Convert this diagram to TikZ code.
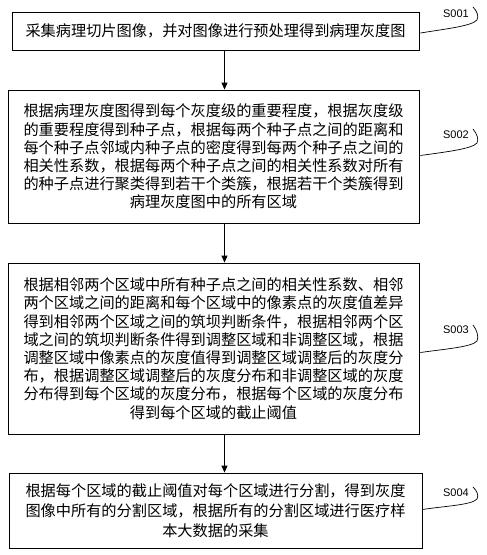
\documentclass[tikz,border=0pt]{standalone}
\usepackage{fontspec}
\setmainfont{Noto Sans CJK SC}
\newfontfamily\lblfont{Liberation Sans}
\usetikzlibrary{arrows.meta,calc}
\begin{document}
\begin{tikzpicture}[x=1pt,y=-1pt,
  stepbox/.style={draw,line width=0.9pt,align=center,inner sep=0pt,
    font=\fontsize{15.2pt}{18.2pt}\selectfont},
  flow/.style={line width=0.9pt,-{Triangle[length=7pt,width=6pt]}},
  lbl/.style={font=\lblfont\fontsize{11pt}{13pt}\selectfont,inner sep=0pt},
  hook/.style={line width=0.7pt}]
\useasboundingbox (0,0) rectangle (487,555);
\node[stepbox,minimum width=407pt,minimum height=38pt] (b1) at (215.5,31)
 {采集病理切片图像，并对图像进行预处理得到病理灰度图};
\node[stepbox,minimum width=411pt,minimum height=133pt] (b2) at (213.5,156.5)
 {根据病理灰度图得到每个灰度级的重要程度，根据灰度级\\
  的重要程度得到种子点，根据每两个种子点之间的距离和\\
  每个种子点邻域内种子点的密度得到每两个种子点之间的\\
  相关性系数，根据每两个种子点之间的相关性系数对所有\\
  的种子点进行聚类得到若干个类簇，根据若干个类簇得到\\
  病理灰度图中的所有区域};
\node[stepbox,minimum width=411pt,minimum height=171pt] (b3) at (213.5,348.5)
 {根据相邻两个区域中所有种子点之间的相关性系数、相邻\\
  两个区域之间的距离和每个区域中的像素点的灰度值差异\\
  得到相邻两个区域之间的筑坝判断条件，根据相邻两个区\\
  域之间的筑坝判断条件得到调整区域和非调整区域，根据\\
  调整区域中像素点的灰度值得到调整区域调整后的灰度分\\
  布，根据调整区域调整后的灰度分布和非调整区域的灰度\\
  分布得到每个区域的灰度分布，根据每个区域的灰度分布\\
  得到每个区域的截止阈值};
\node[stepbox,minimum width=413pt,minimum height=75pt,
  font=\fontsize{15.2pt}{20pt}\selectfont] (b4) at (215.5,510.5)
 {根据每个区域的截止阈值对每个区域进行分割，得到灰度\\
  图像中所有的分割区域，根据所有的分割区域进行医疗样\\
  本大数据的采集};
\coordinate (ax) at (224.5,0);
\draw[flow] (b1.south -| ax) -- (b2.north -| ax);
\draw[flow] (b2.south -| ax) -- (b3.north -| ax);
\draw[flow] (b3.south -| ax) -- (b4.north -| ax);
\node[lbl] (l1) at (456,14) {S001};
\node[lbl] (l2) at (456,135) {S002};
\node[lbl] (l3) at (456,330) {S003};
\node[lbl] (l4) at (456,493) {S004};
\draw[hook] ($(b1.east)+(1,2)$) .. controls (445,29) and (472,26) .. (477,20)
  .. controls (479,16) and (477,11) .. (473,7);
\draw[hook] ($(b2.east)+(1,-1)$) .. controls (445,152) and (472,149) .. (477,143)
  .. controls (479,139) and (477,134) .. (473,129);
\draw[hook] ($(b3.east)+(1,4)$) .. controls (445,349) and (472,347) .. (477,341)
  .. controls (479,337) and (477,330) .. (473,325);
\draw[hook] ($(b4.east)+(0,-1)$) .. controls (445,506) and (472,505) .. (477,499)
  .. controls (479,495) and (477,491) .. (473,487);
\end{tikzpicture}
\end{document}
